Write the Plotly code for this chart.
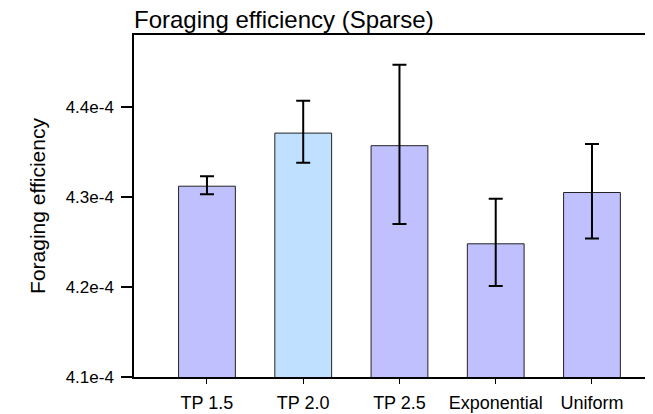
import plotly.graph_objects as go

categories = ["TP 1.5", "TP 2.0", "TP 2.5", "Exponential", "Uniform"]
means = [4.312e-4, 4.371e-4, 4.357e-4, 4.248e-4, 4.305e-4]
err_plus = [0.11e-5, 0.36e-5, 0.90e-5, 0.50e-5, 0.54e-5]
err_minus = [0.09e-5, 0.33e-5, 0.87e-5, 0.47e-5, 0.51e-5]
bar_colors = ["#C0C0FF", "#C0E0FF", "#C0C0FF", "#C0C0FF", "#C0C0FF"]
ytick_vals = [4.1e-4, 4.2e-4, 4.3e-4, 4.4e-4]
ytick_text = ["4.1e-4", "4.2e-4", "4.3e-4", "4.4e-4"]

FONT = "Liberation Sans, Arial, sans-serif"
xpos = list(range(len(categories)))

# page body has an 8px default margin; figure sized to fill the 653x414 window
W, H = 645, 406

fig = go.Figure()
fig.add_trace(go.Bar(
    x=xpos, y=means, width=0.59,
    marker=dict(color=bar_colors, line=dict(color="#222222", width=1)),
    error_y=dict(type="data", symmetric=False, array=err_plus, arrayminus=err_minus,
                 color="black", thickness=2, width=7),
    showlegend=False,
))

fig.update_layout(
    width=W, height=H,
    margin=dict(l=126, r=0, t=27, b=37),
    plot_bgcolor="white", paper_bgcolor="white",
    font=dict(family=FONT, color="black"),
    title=dict(text="Foraging efficiency (Sparse)", font=dict(size=24, family=FONT, color="black"),
               xref="paper", x=0, xanchor="left", yref="container", y=1 - 12 / H, yanchor="middle"),
)
fig.update_xaxes(
    range=[-0.758, 4.634], tickmode="array", tickvals=xpos, ticktext=categories,
    showline=True, linecolor="black", linewidth=1.5, mirror=True,
    ticks="outside", ticklen=5, tickwidth=1, tickcolor="black", ticklabelstandoff=4,
    tickfont=dict(size=18, family=FONT), showgrid=False, zeroline=False,
)
fig.update_yaxes(
    range=[4.1e-4, 4.48e-4], tickmode="array", tickvals=ytick_vals, ticktext=ytick_text,
    showline=True, linecolor="black", linewidth=1.5,
    ticks="outside", ticklen=11, tickwidth=1.5, tickcolor="black", ticklabelstandoff=4,
    tickfont=dict(size=17, family=FONT), showgrid=False, zeroline=False,
    title=dict(text="Foraging efficiency", font=dict(size=21, family=FONT), standoff=14),
)

fig.write_html("out.html")
